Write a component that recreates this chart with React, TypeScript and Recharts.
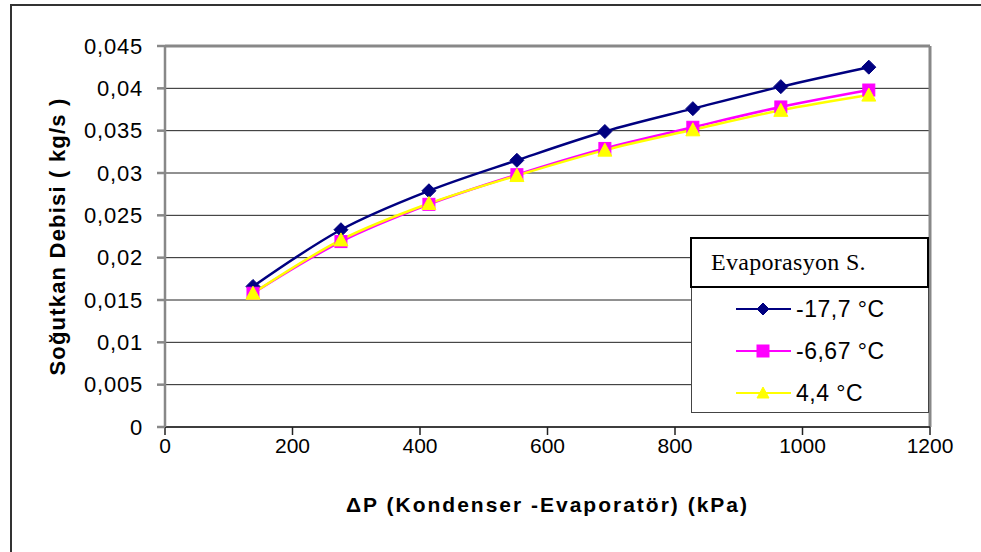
import { LineChart, Line, XAxis, YAxis, CartesianGrid, ReferenceLine, Label } from 'recharts';

// ΔP (kPa) and mass flow (kg/s) per evaporation temperature
const pressures = [138, 276, 414, 552, 690, 828, 966, 1104];
const evapMinus177 = [0.0166, 0.0233, 0.0279, 0.0315, 0.0349, 0.0376, 0.0402, 0.0425];
const evapMinus667 = [0.0158, 0.0219, 0.0263, 0.0298, 0.0329, 0.0354, 0.0378, 0.0398];
const evap44 = [0.0158, 0.0221, 0.0264, 0.0297, 0.0327, 0.0351, 0.0374, 0.0392];

const seriesNames = ['-17,7 °C', '-6,67 °C', '4,4 °C'];
const xTicks = [0, 200, 400, 600, 800, 1000, 1200];
const yTicks = [0, 0.005, 0.01, 0.015, 0.02, 0.025, 0.03, 0.035, 0.04, 0.045];

const data = pressures.map((p, i) => ({
  p,
  s1: evapMinus177[i],
  s2: evapMinus667[i],
  s3: evap44[i],
}));

const FONT = 'Arial, "Liberation Sans", sans-serif';
const NAVY = '#000080';
const MAGENTA = '#FF00FF';
const YELLOW = '#FFFF00';

const fmt = (v: number) => String(v).replace('.', ',');

function Diamond({ cx, cy, r = 7 }: { cx: number; cy: number; r?: number }) {
  return <polygon points={`${cx},${cy - r} ${cx + r},${cy} ${cx},${cy + r} ${cx - r},${cy}`} fill={NAVY} stroke={NAVY} />;
}

function Square({ cx, cy, r = 6 }: { cx: number; cy: number; r?: number }) {
  return <rect x={cx - r} y={cy - r} width={r * 2} height={r * 2} fill={MAGENTA} stroke={MAGENTA} />;
}

function Triangle({ cx, cy, r = 7 }: { cx: number; cy: number; r?: number }) {
  return <polygon points={`${cx},${cy - r} ${cx + r},${cy + r - 1} ${cx - r},${cy + r - 1}`} fill={YELLOW} stroke={YELLOW} />;
}

const diamondDot = (props: any) => <Diamond key={`d${props.index}`} cx={props.cx} cy={props.cy} />;
const squareDot = (props: any) => <Square key={`s${props.index}`} cx={props.cx} cy={props.cy} />;
const triangleDot = (props: any) => <Triangle key={`t${props.index}`} cx={props.cx} cy={props.cy} />;

function LegendBox() {
  const rows = [
    { name: seriesNames[0], color: NAVY, Marker: Diamond },
    { name: seriesNames[1], color: MAGENTA, Marker: Square },
    { name: seriesNames[2], color: YELLOW, Marker: Triangle },
  ];
  return (
    <div style={{ position: 'absolute', left: 690, top: 237, width: 239 }}>
      <div
        style={{
          boxSizing: 'border-box',
          height: 51,
          border: '2px solid #000',
          background: '#fff',
          fontFamily: '"Liberation Serif", "Times New Roman", serif',
          fontSize: 24,
          letterSpacing: 0.3,
          lineHeight: '47px',
          paddingLeft: 19,
        }}
      >
        Evaporasyon S.
      </div>
      <div
        style={{
          boxSizing: 'border-box',
          height: 125,
          marginLeft: 1,
          borderLeft: '1px solid #444',
          borderRight: '1px solid #444',
          borderBottom: '1px solid #444',
          background: '#fff',
          paddingTop: 0,
        }}
      >
        {rows.map(({ name, color, Marker }) => (
          <div key={name} style={{ display: 'flex', alignItems: 'center', height: 42 }}>
            <svg width={110} height={30} style={{ flex: 'none' }}>
              <line x1={44} x2={99} y1={15} y2={15} stroke={color} strokeWidth={2} />
              <Marker cx={71} cy={15} r={6} />
            </svg>
            <span style={{ fontFamily: FONT, fontSize: 23, letterSpacing: 0.5, marginLeft: -6 }}>{name}</span>
          </div>
        ))}
      </div>
    </div>
  );
}

export default function App() {
  return (
    <div style={{ position: 'absolute', left: 0, top: 0, width: 981, height: 552, background: '#fff', overflow: 'hidden' }}>
      <div
        style={{
          position: 'absolute',
          left: 10,
          top: 4,
          width: 1000,
          height: 600,
          borderLeft: '2px solid #333',
          borderTop: '2px solid #333',
        }}
      />
      <div style={{ position: 'absolute', left: 0, top: 0 }}>
        <LineChart width={981} height={552} data={data} margin={{ top: 46, right: 51, bottom: 0, left: 0 }}>
          <CartesianGrid horizontal vertical={false} stroke="#222" strokeWidth={1} />
          <ReferenceLine y={0.045} stroke="#888" strokeWidth={3} />
          <ReferenceLine x={1200} stroke="#888" strokeWidth={3} />
          <XAxis
            type="number"
            dataKey="p"
            domain={[0, 1200]}
            ticks={xTicks}
            height={125}
            tickSize={8}
            tickMargin={3}
            stroke="#222"
            strokeWidth={1.5}
            tick={{ fill: '#000', fontSize: 21, fontFamily: FONT }}
          >
            <Label
              value="ΔP (Kondenser -Evaporatör) (kPa)"
              position="center"
              dy={15}
              style={{ fontFamily: FONT, fontSize: 21, fontWeight: 'bold', fill: '#000', letterSpacing: 2 }}
            />
          </XAxis>
          <YAxis
            type="number"
            domain={[0, 0.045]}
            ticks={yTicks}
            width={165}
            tickSize={8}
            tickMargin={14}
            stroke="#888"
            strokeWidth={2.5}
            tickFormatter={fmt}
            tick={{ fill: '#000', fontSize: 22, fontFamily: FONT, letterSpacing: 0.8 }}
          >
            <Label
              value="Soğutkan Debisi ( kg/s )"
              position="center"
              angle={-90}
              dx={-25}
              style={{ fontFamily: FONT, fontSize: 22, fontWeight: 'bold', fill: '#000', textAnchor: 'middle', letterSpacing: 1.2 }}
            />
          </YAxis>
          <Line type="monotone" dataKey="s1" name={seriesNames[0]} stroke={NAVY} strokeWidth={2.5} dot={diamondDot} isAnimationActive={false} />
          <Line type="monotone" dataKey="s2" name={seriesNames[1]} stroke={MAGENTA} strokeWidth={2.5} dot={squareDot} isAnimationActive={false} />
          <Line type="monotone" dataKey="s3" name={seriesNames[2]} stroke={YELLOW} strokeWidth={2.5} dot={triangleDot} isAnimationActive={false} />
        </LineChart>
      </div>
      <LegendBox />
    </div>
  );
}
